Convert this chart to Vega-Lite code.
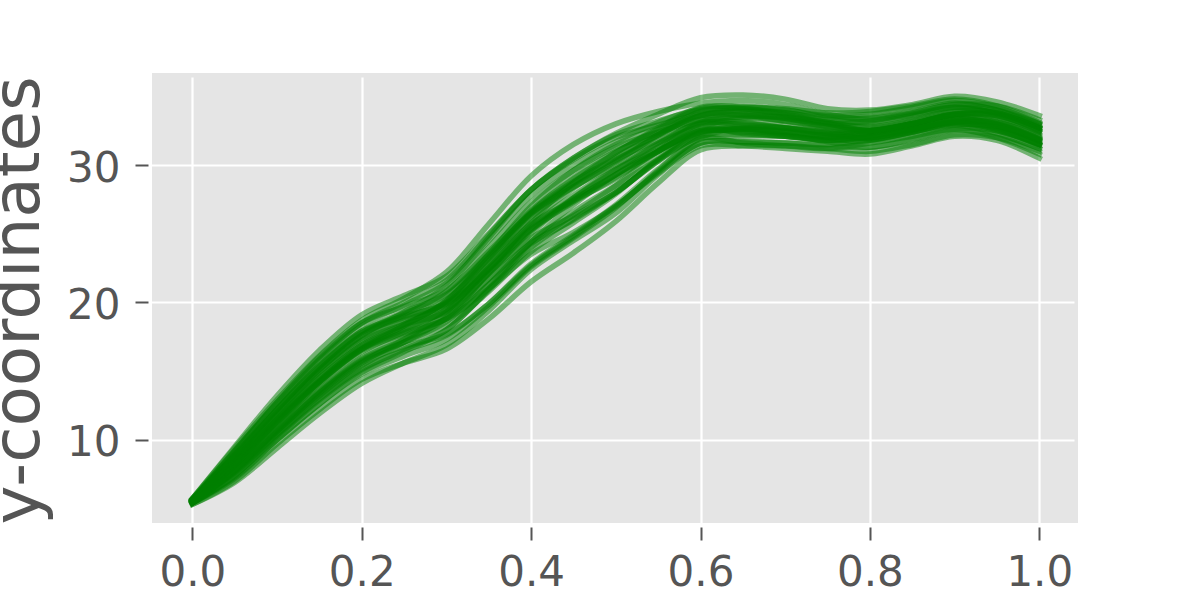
{
  "$schema": "https://vega.github.io/schema/vega-lite/v6.json",
  "autosize": {"type": "none"},
  "width": 926,
  "height": 450,
  "padding": {"left": 152, "top": 73, "right": 122, "bottom": 77},
  "background": "white",
  "config": {
    "view": {"fill": "#E5E5E5", "stroke": null},
    "axis": {
      "domain": false,
      "grid": true,
      "gridColor": "white",
      "gridWidth": 2.2,
      "gridOpacity": 1,
      "tickColor": "#555555",
      "tickWidth": 2,
      "tickSize": 13,
      "offset": 4,
      "labelFont": "DejaVu Sans",
      "labelFontSize": 42,
      "labelColor": "#555555",
      "titleFont": "DejaVu Sans",
      "titleFontWeight": "normal",
      "titleColor": "#555555"
    }
  },
  "data": {"values": [
    {"c":1,"x":0,"y":5.3},{"c":1,"x":0.05,"y":7.0},{"c":1,"x":0.1,"y":9.7},{"c":1,"x":0.15,"y":12.2},{"c":1,"x":0.2,"y":14.4},{"c":1,"x":0.25,"y":15.6},{"c":1,"x":0.3,"y":16.6},{"c":1,"x":0.35,"y":18.8},{"c":1,"x":0.4,"y":21.5},{"c":1,"x":0.45,"y":23.6},{"c":1,"x":0.5,"y":25.9},{"c":1,"x":0.55,"y":28.7},{"c":1,"x":0.6,"y":31.1},{"c":1,"x":0.65,"y":31.4},{"c":1,"x":0.7,"y":31.4},{"c":1,"x":0.75,"y":31.2},{"c":1,"x":0.8,"y":31.0},{"c":1,"x":0.85,"y":31.5},{"c":1,"x":0.9,"y":32.2},{"c":1,"x":0.95,"y":32.0},{"c":1,"x":1,"y":31.0},
    {"c":2,"x":0,"y":5.3},{"c":2,"x":0.05,"y":6.9},{"c":2,"x":0.1,"y":9.4},{"c":2,"x":0.15,"y":11.9},{"c":2,"x":0.2,"y":14.1},{"c":2,"x":0.25,"y":15.6},{"c":2,"x":0.3,"y":16.9},{"c":2,"x":0.35,"y":19.4},{"c":2,"x":0.4,"y":22.4},{"c":2,"x":0.45,"y":24.5},{"c":2,"x":0.5,"y":26.5},{"c":2,"x":0.55,"y":29.3},{"c":2,"x":0.6,"y":31.6},{"c":2,"x":0.65,"y":31.7},{"c":2,"x":0.7,"y":31.6},{"c":2,"x":0.75,"y":31.5},{"c":2,"x":0.8,"y":31.8},{"c":2,"x":0.85,"y":32.4},{"c":2,"x":0.9,"y":32.9},{"c":2,"x":0.95,"y":32.3},{"c":2,"x":1,"y":31.2},
    {"c":3,"x":0,"y":5.4},{"c":3,"x":0.05,"y":7.2},{"c":3,"x":0.1,"y":10.0},{"c":3,"x":0.15,"y":12.6},{"c":3,"x":0.2,"y":14.8},{"c":3,"x":0.25,"y":16.1},{"c":3,"x":0.3,"y":17.3},{"c":3,"x":0.35,"y":19.7},{"c":3,"x":0.4,"y":22.6},{"c":3,"x":0.45,"y":24.7},{"c":3,"x":0.5,"y":26.9},{"c":3,"x":0.55,"y":29.6},{"c":3,"x":0.6,"y":32.0},{"c":3,"x":0.65,"y":32.7},{"c":3,"x":0.7,"y":32.7},{"c":3,"x":0.75,"y":32.4},{"c":3,"x":0.8,"y":31.9},{"c":3,"x":0.85,"y":32.4},{"c":3,"x":0.9,"y":33.1},{"c":3,"x":0.95,"y":33.1},{"c":3,"x":1,"y":32.1},
    {"c":4,"x":0,"y":5.4},{"c":4,"x":0.05,"y":7.7},{"c":4,"x":0.1,"y":10.6},{"c":4,"x":0.15,"y":13.4},{"c":4,"x":0.2,"y":15.6},{"c":4,"x":0.25,"y":16.8},{"c":4,"x":0.3,"y":17.7},{"c":4,"x":0.35,"y":19.9},{"c":4,"x":0.4,"y":22.7},{"c":4,"x":0.45,"y":24.8},{"c":4,"x":0.5,"y":27.0},{"c":4,"x":0.55,"y":29.4},{"c":4,"x":0.6,"y":31.4},{"c":4,"x":0.65,"y":31.4},{"c":4,"x":0.7,"y":31.2},{"c":4,"x":0.75,"y":31.0},{"c":4,"x":0.8,"y":30.8},{"c":4,"x":0.85,"y":31.4},{"c":4,"x":0.9,"y":32.1},{"c":4,"x":0.95,"y":31.8},{"c":4,"x":1,"y":30.5},
    {"c":5,"x":0,"y":5.4},{"c":5,"x":0.05,"y":7.3},{"c":5,"x":0.1,"y":10.0},{"c":5,"x":0.15,"y":12.6},{"c":5,"x":0.2,"y":14.9},{"c":5,"x":0.25,"y":16.4},{"c":5,"x":0.3,"y":18.0},{"c":5,"x":0.35,"y":20.9},{"c":5,"x":0.4,"y":24.0},{"c":5,"x":0.45,"y":26.1},{"c":5,"x":0.5,"y":28.0},{"c":5,"x":0.55,"y":30.3},{"c":5,"x":0.6,"y":32.1},{"c":5,"x":0.65,"y":32.2},{"c":5,"x":0.7,"y":32.1},{"c":5,"x":0.75,"y":31.9},{"c":5,"x":0.8,"y":32.1},{"c":5,"x":0.85,"y":32.6},{"c":5,"x":0.9,"y":33.1},{"c":5,"x":0.95,"y":32.7},{"c":5,"x":1,"y":31.5},
    {"c":6,"x":0,"y":5.4},{"c":6,"x":0.05,"y":7.8},{"c":6,"x":0.1,"y":10.7},{"c":6,"x":0.15,"y":13.5},{"c":6,"x":0.2,"y":15.8},{"c":6,"x":0.25,"y":17.1},{"c":6,"x":0.3,"y":18.3},{"c":6,"x":0.35,"y":20.8},{"c":6,"x":0.4,"y":23.7},{"c":6,"x":0.45,"y":25.8},{"c":6,"x":0.5,"y":27.9},{"c":6,"x":0.55,"y":30.5},{"c":6,"x":0.6,"y":32.7},{"c":6,"x":0.65,"y":33.4},{"c":6,"x":0.7,"y":33.3},{"c":6,"x":0.75,"y":33.0},{"c":6,"x":0.8,"y":32.5},{"c":6,"x":0.85,"y":33.0},{"c":6,"x":0.9,"y":33.7},{"c":6,"x":0.95,"y":33.6},{"c":6,"x":1,"y":32.6},
    {"c":7,"x":0,"y":5.4},{"c":7,"x":0.05,"y":7.7},{"c":7,"x":0.1,"y":10.6},{"c":7,"x":0.15,"y":13.4},{"c":7,"x":0.2,"y":15.7},{"c":7,"x":0.25,"y":17.1},{"c":7,"x":0.3,"y":18.6},{"c":7,"x":0.35,"y":21.3},{"c":7,"x":0.4,"y":24.4},{"c":7,"x":0.45,"y":26.6},{"c":7,"x":0.5,"y":28.5},{"c":7,"x":0.55,"y":30.4},{"c":7,"x":0.6,"y":32.0},{"c":7,"x":0.65,"y":31.6},{"c":7,"x":0.7,"y":31.4},{"c":7,"x":0.75,"y":31.2},{"c":7,"x":0.8,"y":31.6},{"c":7,"x":0.85,"y":32.1},{"c":7,"x":0.9,"y":32.6},{"c":7,"x":0.95,"y":32.0},{"c":7,"x":1,"y":30.8},
    {"c":8,"x":0,"y":5.5},{"c":8,"x":0.05,"y":8.1},{"c":8,"x":0.1,"y":11.2},{"c":8,"x":0.15,"y":14.1},{"c":8,"x":0.2,"y":16.5},{"c":8,"x":0.25,"y":17.7},{"c":8,"x":0.3,"y":18.8},{"c":8,"x":0.35,"y":21.3},{"c":8,"x":0.4,"y":24.2},{"c":8,"x":0.45,"y":26.4},{"c":8,"x":0.5,"y":28.5},{"c":8,"x":0.55,"y":31.0},{"c":8,"x":0.6,"y":33.1},{"c":8,"x":0.65,"y":33.5},{"c":8,"x":0.7,"y":33.5},{"c":8,"x":0.75,"y":33.1},{"c":8,"x":0.8,"y":33.0},{"c":8,"x":0.85,"y":33.5},{"c":8,"x":0.9,"y":34.1},{"c":8,"x":0.95,"y":33.8},{"c":8,"x":1,"y":32.7},
    {"c":9,"x":0,"y":5.5},{"c":9,"x":0.05,"y":7.9},{"c":9,"x":0.1,"y":10.8},{"c":9,"x":0.15,"y":13.6},{"c":9,"x":0.2,"y":16.0},{"c":9,"x":0.25,"y":17.5},{"c":9,"x":0.3,"y":19.1},{"c":9,"x":0.35,"y":22.1},{"c":9,"x":0.4,"y":25.3},{"c":9,"x":0.45,"y":27.5},{"c":9,"x":0.5,"y":29.3},{"c":9,"x":0.55,"y":31.0},{"c":9,"x":0.6,"y":32.4},{"c":9,"x":0.65,"y":32.6},{"c":9,"x":0.7,"y":32.4},{"c":9,"x":0.75,"y":32.0},{"c":9,"x":0.8,"y":31.7},{"c":9,"x":0.85,"y":32.2},{"c":9,"x":0.9,"y":32.9},{"c":9,"x":0.95,"y":32.8},{"c":9,"x":1,"y":31.7},
    {"c":10,"x":0,"y":5.5},{"c":10,"x":0.05,"y":8.3},{"c":10,"x":0.1,"y":11.4},{"c":10,"x":0.15,"y":14.3},{"c":10,"x":0.2,"y":16.7},{"c":10,"x":0.25,"y":18.1},{"c":10,"x":0.3,"y":19.4},{"c":10,"x":0.35,"y":22.1},{"c":10,"x":0.4,"y":25.2},{"c":10,"x":0.45,"y":27.4},{"c":10,"x":0.5,"y":29.3},{"c":10,"x":0.55,"y":31.3},{"c":10,"x":0.6,"y":33.0},{"c":10,"x":0.65,"y":33.1},{"c":10,"x":0.7,"y":32.9},{"c":10,"x":0.75,"y":32.6},{"c":10,"x":0.8,"y":32.6},{"c":10,"x":0.85,"y":33.1},{"c":10,"x":0.9,"y":33.7},{"c":10,"x":0.95,"y":33.3},{"c":10,"x":1,"y":32.2},
    {"c":11,"x":0,"y":5.5},{"c":11,"x":0.05,"y":8.2},{"c":11,"x":0.1,"y":11.3},{"c":11,"x":0.15,"y":14.2},{"c":11,"x":0.2,"y":16.6},{"c":11,"x":0.25,"y":18.0},{"c":11,"x":0.3,"y":19.5},{"c":11,"x":0.35,"y":22.4},{"c":11,"x":0.4,"y":25.6},{"c":11,"x":0.45,"y":27.8},{"c":11,"x":0.5,"y":29.7},{"c":11,"x":0.55,"y":31.1},{"c":11,"x":0.6,"y":32.4},{"c":11,"x":0.65,"y":32.5},{"c":11,"x":0.7,"y":32.2},{"c":11,"x":0.75,"y":31.7},{"c":11,"x":0.8,"y":31.3},{"c":11,"x":0.85,"y":31.9},{"c":11,"x":0.9,"y":32.6},{"c":11,"x":0.95,"y":32.5},{"c":11,"x":1,"y":31.5},
    {"c":12,"x":0,"y":5.5},{"c":12,"x":0.05,"y":8.6},{"c":12,"x":0.1,"y":11.9},{"c":12,"x":0.15,"y":15.0},{"c":12,"x":0.2,"y":17.4},{"c":12,"x":0.25,"y":18.7},{"c":12,"x":0.3,"y":19.8},{"c":12,"x":0.35,"y":22.4},{"c":12,"x":0.4,"y":25.4},{"c":12,"x":0.45,"y":27.6},{"c":12,"x":0.5,"y":29.6},{"c":12,"x":0.55,"y":31.5},{"c":12,"x":0.6,"y":33.1},{"c":12,"x":0.65,"y":32.9},{"c":12,"x":0.7,"y":32.7},{"c":12,"x":0.75,"y":32.4},{"c":12,"x":0.8,"y":32.5},{"c":12,"x":0.85,"y":33.0},{"c":12,"x":0.9,"y":33.6},{"c":12,"x":0.95,"y":33.1},{"c":12,"x":1,"y":31.9},
    {"c":13,"x":0,"y":5.6},{"c":13,"x":0.05,"y":8.3},{"c":13,"x":0.1,"y":11.4},{"c":13,"x":0.15,"y":14.3},{"c":13,"x":0.2,"y":16.8},{"c":13,"x":0.25,"y":18.3},{"c":13,"x":0.3,"y":20.1},{"c":13,"x":0.35,"y":23.3},{"c":13,"x":0.4,"y":26.6},{"c":13,"x":0.45,"y":28.8},{"c":13,"x":0.5,"y":30.5},{"c":13,"x":0.55,"y":32.2},{"c":13,"x":0.6,"y":33.6},{"c":13,"x":0.65,"y":33.9},{"c":13,"x":0.7,"y":33.8},{"c":13,"x":0.75,"y":33.3},{"c":13,"x":0.8,"y":33.1},{"c":13,"x":0.85,"y":33.6},{"c":13,"x":0.9,"y":34.2},{"c":13,"x":0.95,"y":33.9},{"c":13,"x":1,"y":32.9},
    {"c":14,"x":0,"y":5.6},{"c":14,"x":0.05,"y":8.6},{"c":14,"x":0.1,"y":11.8},{"c":14,"x":0.15,"y":14.9},{"c":14,"x":0.2,"y":17.3},{"c":14,"x":0.25,"y":18.8},{"c":14,"x":0.3,"y":20.2},{"c":14,"x":0.35,"y":23.2},{"c":14,"x":0.4,"y":26.4},{"c":14,"x":0.45,"y":28.6},{"c":14,"x":0.5,"y":30.4},{"c":14,"x":0.55,"y":31.8},{"c":14,"x":0.6,"y":33.0},{"c":14,"x":0.65,"y":32.7},{"c":14,"x":0.7,"y":32.3},{"c":14,"x":0.75,"y":32.0},{"c":14,"x":0.8,"y":32.3},{"c":14,"x":0.85,"y":32.8},{"c":14,"x":0.9,"y":33.3},{"c":14,"x":0.95,"y":32.7},{"c":14,"x":1,"y":31.6},
    {"c":15,"x":0,"y":5.6},{"c":15,"x":0.05,"y":8.8},{"c":15,"x":0.1,"y":12.2},{"c":15,"x":0.15,"y":15.3},{"c":15,"x":0.2,"y":17.8},{"c":15,"x":0.25,"y":19.2},{"c":15,"x":0.3,"y":20.5},{"c":15,"x":0.35,"y":23.4},{"c":15,"x":0.4,"y":26.5},{"c":15,"x":0.45,"y":28.7},{"c":15,"x":0.5,"y":30.6},{"c":15,"x":0.55,"y":32.2},{"c":15,"x":0.6,"y":33.6},{"c":15,"x":0.65,"y":33.9},{"c":15,"x":0.7,"y":33.6},{"c":15,"x":0.75,"y":33.1},{"c":15,"x":0.8,"y":32.7},{"c":15,"x":0.85,"y":33.2},{"c":15,"x":0.9,"y":33.9},{"c":15,"x":0.95,"y":33.8},{"c":15,"x":1,"y":32.7},
    {"c":16,"x":0,"y":5.6},{"c":16,"x":0.05,"y":8.7},{"c":16,"x":0.1,"y":12.0},{"c":16,"x":0.15,"y":15.1},{"c":16,"x":0.2,"y":17.6},{"c":16,"x":0.25,"y":19.1},{"c":16,"x":0.3,"y":20.8},{"c":16,"x":0.35,"y":24.0},{"c":16,"x":0.4,"y":27.3},{"c":16,"x":0.45,"y":29.6},{"c":16,"x":0.5,"y":31.3},{"c":16,"x":0.55,"y":32.4},{"c":16,"x":0.6,"y":33.3},{"c":16,"x":0.65,"y":33.1},{"c":16,"x":0.7,"y":32.7},{"c":16,"x":0.75,"y":32.3},{"c":16,"x":0.8,"y":32.3},{"c":16,"x":0.85,"y":32.8},{"c":16,"x":0.9,"y":33.4},{"c":16,"x":0.95,"y":33.0},{"c":16,"x":1,"y":31.9},
    {"c":17,"x":0,"y":5.6},{"c":17,"x":0.05,"y":9.2},{"c":17,"x":0.1,"y":12.7},{"c":17,"x":0.15,"y":16.0},{"c":17,"x":0.2,"y":18.5},{"c":17,"x":0.25,"y":19.7},{"c":17,"x":0.3,"y":20.9},{"c":17,"x":0.35,"y":23.7},{"c":17,"x":0.4,"y":26.7},{"c":17,"x":0.45,"y":29.0},{"c":17,"x":0.5,"y":30.9},{"c":17,"x":0.55,"y":32.7},{"c":17,"x":0.6,"y":34.2},{"c":17,"x":0.65,"y":34.2},{"c":17,"x":0.7,"y":34.0},{"c":17,"x":0.75,"y":33.6},{"c":17,"x":0.8,"y":33.7},{"c":17,"x":0.85,"y":34.2},{"c":17,"x":0.9,"y":34.7},{"c":17,"x":0.95,"y":34.2},{"c":17,"x":1,"y":33.0},
    {"c":18,"x":0,"y":5.6},{"c":18,"x":0.05,"y":8.8},{"c":18,"x":0.1,"y":12.0},{"c":18,"x":0.15,"y":15.1},{"c":18,"x":0.2,"y":17.6},{"c":18,"x":0.25,"y":19.3},{"c":18,"x":0.3,"y":21.2},{"c":18,"x":0.35,"y":24.7},{"c":18,"x":0.4,"y":28.2},{"c":18,"x":0.45,"y":30.4},{"c":18,"x":0.5,"y":32.0},{"c":18,"x":0.55,"y":32.9},{"c":18,"x":0.6,"y":33.7},{"c":18,"x":0.65,"y":34.0},{"c":18,"x":0.7,"y":33.6},{"c":18,"x":0.75,"y":33.0},{"c":18,"x":0.8,"y":32.5},{"c":18,"x":0.85,"y":33.0},{"c":18,"x":0.9,"y":33.7},{"c":18,"x":0.95,"y":33.7},{"c":18,"x":1,"y":32.7},
    {"c":19,"x":0,"y":5.6},{"c":19,"x":0.05,"y":9.1},{"c":19,"x":0.1,"y":12.6},{"c":19,"x":0.15,"y":15.8},{"c":19,"x":0.2,"y":18.3},{"c":19,"x":0.25,"y":19.8},{"c":19,"x":0.3,"y":21.4},{"c":19,"x":0.35,"y":24.5},{"c":19,"x":0.4,"y":27.8},{"c":19,"x":0.45,"y":30.0},{"c":19,"x":0.5,"y":31.7},{"c":19,"x":0.55,"y":33.1},{"c":19,"x":0.6,"y":34.1},{"c":19,"x":0.65,"y":34.1},{"c":19,"x":0.7,"y":33.8},{"c":19,"x":0.75,"y":33.4},{"c":19,"x":0.8,"y":33.4},{"c":19,"x":0.85,"y":33.8},{"c":19,"x":0.9,"y":34.4},{"c":19,"x":0.95,"y":34.0},{"c":19,"x":1,"y":32.8},
    {"c":20,"x":0,"y":5.7},{"c":20,"x":0.05,"y":9.2},{"c":20,"x":0.1,"y":12.7},{"c":20,"x":0.15,"y":15.9},{"c":20,"x":0.2,"y":18.5},{"c":20,"x":0.25,"y":20.0},{"c":20,"x":0.3,"y":21.6},{"c":20,"x":0.35,"y":24.9},{"c":20,"x":0.4,"y":28.2},{"c":20,"x":0.45,"y":30.5},{"c":20,"x":0.5,"y":32.2},{"c":20,"x":0.55,"y":33.2},{"c":20,"x":0.6,"y":34.0},{"c":20,"x":0.65,"y":34.1},{"c":20,"x":0.7,"y":33.7},{"c":20,"x":0.75,"y":33.1},{"c":20,"x":0.8,"y":32.8},{"c":20,"x":0.85,"y":33.3},{"c":20,"x":0.9,"y":34.0},{"c":20,"x":0.95,"y":33.8},{"c":20,"x":1,"y":32.7},
    {"c":21,"x":0,"y":5.7},{"c":21,"x":0.05,"y":9.5},{"c":21,"x":0.1,"y":13.2},{"c":21,"x":0.15,"y":16.5},{"c":21,"x":0.2,"y":19.1},{"c":21,"x":0.25,"y":20.5},{"c":21,"x":0.3,"y":21.9},{"c":21,"x":0.35,"y":25.0},{"c":21,"x":0.4,"y":28.2},{"c":21,"x":0.45,"y":30.5},{"c":21,"x":0.5,"y":32.3},{"c":21,"x":0.55,"y":33.7},{"c":21,"x":0.6,"y":34.9},{"c":21,"x":0.65,"y":35.1},{"c":21,"x":0.7,"y":34.8},{"c":21,"x":0.75,"y":34.1},{"c":21,"x":0.8,"y":34.0},{"c":21,"x":0.85,"y":34.4},{"c":21,"x":0.9,"y":35.0},{"c":21,"x":0.95,"y":34.6},{"c":21,"x":1,"y":33.6},
    {"c":22,"x":0,"y":5.7},{"c":22,"x":0.05,"y":9.4},{"c":22,"x":0.1,"y":12.9},{"c":22,"x":0.15,"y":16.1},{"c":22,"x":0.2,"y":18.7},{"c":22,"x":0.25,"y":20.3},{"c":22,"x":0.3,"y":22.2},{"c":22,"x":0.35,"y":25.7},{"c":22,"x":0.4,"y":29.2},{"c":22,"x":0.45,"y":31.5},{"c":22,"x":0.5,"y":33.0},{"c":22,"x":0.55,"y":33.9},{"c":22,"x":0.6,"y":34.5},{"c":22,"x":0.65,"y":34.7},{"c":22,"x":0.7,"y":34.4},{"c":22,"x":0.75,"y":33.7},{"c":22,"x":0.8,"y":33.3},{"c":22,"x":0.85,"y":33.8},{"c":22,"x":0.9,"y":34.4},{"c":22,"x":0.95,"y":34.3},{"c":22,"x":1,"y":33.3},
    {"c":23,"x":0,"y":5.4},{"c":23,"x":0.05,"y":7.4},{"c":23,"x":0.1,"y":10.3},{"c":23,"x":0.15,"y":13.0},{"c":23,"x":0.2,"y":15.2},{"c":23,"x":0.25,"y":16.5},{"c":23,"x":0.3,"y":17.6},{"c":23,"x":0.35,"y":19.9},{"c":23,"x":0.4,"y":22.8},{"c":23,"x":0.45,"y":24.9},{"c":23,"x":0.5,"y":27.1},{"c":23,"x":0.55,"y":29.7},{"c":23,"x":0.6,"y":31.9},{"c":23,"x":0.65,"y":32.1},{"c":23,"x":0.7,"y":32.1},{"c":23,"x":0.75,"y":31.8},{"c":23,"x":0.8,"y":31.8},{"c":23,"x":0.85,"y":32.4},{"c":23,"x":0.9,"y":33.0},{"c":23,"x":0.95,"y":32.6},{"c":23,"x":1,"y":31.5},
    {"c":24,"x":0,"y":5.5},{"c":24,"x":0.05,"y":8.4},{"c":24,"x":0.1,"y":11.5},{"c":24,"x":0.15,"y":14.5},{"c":24,"x":0.2,"y":16.9},{"c":24,"x":0.25,"y":18.4},{"c":24,"x":0.3,"y":20.0},{"c":24,"x":0.35,"y":23.0},{"c":24,"x":0.4,"y":26.2},{"c":24,"x":0.45,"y":28.4},{"c":24,"x":0.5,"y":30.2},{"c":24,"x":0.55,"y":32.2},{"c":24,"x":0.6,"y":33.9},{"c":24,"x":0.65,"y":34.2},{"c":24,"x":0.7,"y":34.1},{"c":24,"x":0.75,"y":33.8},{"c":24,"x":0.8,"y":33.9},{"c":24,"x":0.85,"y":34.3},{"c":24,"x":0.9,"y":34.8},{"c":24,"x":0.95,"y":34.3},{"c":24,"x":1,"y":33.1},
    {"c":25,"x":0,"y":5.6},{"c":25,"x":0.05,"y":8.9},{"c":25,"x":0.1,"y":12.3},{"c":25,"x":0.15,"y":15.4},{"c":25,"x":0.2,"y":17.9},{"c":25,"x":0.25,"y":19.0},{"c":25,"x":0.3,"y":19.9},{"c":25,"x":0.35,"y":22.2},{"c":25,"x":0.4,"y":24.7},{"c":25,"x":0.45,"y":26.3},{"c":25,"x":0.5,"y":28.0},{"c":25,"x":0.55,"y":30.4},{"c":25,"x":0.6,"y":32.4},{"c":25,"x":0.65,"y":32.6},{"c":25,"x":0.7,"y":32.4},{"c":25,"x":0.75,"y":32.2},{"c":25,"x":0.8,"y":32.4},{"c":25,"x":0.85,"y":32.9},{"c":25,"x":0.9,"y":33.4},{"c":25,"x":0.95,"y":32.9},{"c":25,"x":1,"y":31.8},
    {"c":26,"x":0,"y":5.4},{"c":26,"x":0.05,"y":7.6},{"c":26,"x":0.1,"y":10.4},{"c":26,"x":0.15,"y":13.1},{"c":26,"x":0.2,"y":15.4},{"c":26,"x":0.25,"y":17.1},{"c":26,"x":0.3,"y":18.9},{"c":26,"x":0.35,"y":22.2},{"c":26,"x":0.4,"y":25.9},{"c":26,"x":0.45,"y":28.7},{"c":26,"x":0.5,"y":30.9},{"c":26,"x":0.55,"y":32.6},{"c":26,"x":0.6,"y":34.1},{"c":26,"x":0.65,"y":34.3},{"c":26,"x":0.7,"y":34.0},{"c":26,"x":0.75,"y":33.5},{"c":26,"x":0.8,"y":33.5},{"c":26,"x":0.85,"y":33.9},{"c":26,"x":0.9,"y":34.5},{"c":26,"x":0.95,"y":34.0},{"c":26,"x":1,"y":33.0},
    {"c":27,"x":0,"y":5.6},{"c":27,"x":0.05,"y":8.4},{"c":27,"x":0.1,"y":11.5},{"c":27,"x":0.15,"y":14.5},{"c":27,"x":0.2,"y":16.9},{"c":27,"x":0.25,"y":18.4},{"c":27,"x":0.3,"y":19.9},{"c":27,"x":0.35,"y":22.8},{"c":27,"x":0.4,"y":25.7},{"c":27,"x":0.45,"y":27.4},{"c":27,"x":0.5,"y":29.0},{"c":27,"x":0.55,"y":31.0},{"c":27,"x":0.6,"y":32.5},{"c":27,"x":0.65,"y":32.7},{"c":27,"x":0.7,"y":32.5},{"c":27,"x":0.75,"y":32.2},{"c":27,"x":0.8,"y":32.2},{"c":27,"x":0.85,"y":32.7},{"c":27,"x":0.9,"y":33.3},{"c":27,"x":0.95,"y":33.0},{"c":27,"x":1,"y":31.8},
    {"c":28,"x":0,"y":5.5},{"c":28,"x":0.05,"y":7.7},{"c":28,"x":0.1,"y":10.5},{"c":28,"x":0.15,"y":13.2},{"c":28,"x":0.2,"y":15.6},{"c":28,"x":0.25,"y":17.3},{"c":28,"x":0.3,"y":19.3},{"c":28,"x":0.35,"y":22.8},{"c":28,"x":0.4,"y":26.5},{"c":28,"x":0.45,"y":29.1},{"c":28,"x":0.5,"y":31.0},{"c":28,"x":0.55,"y":32.3},{"c":28,"x":0.6,"y":33.3},{"c":28,"x":0.65,"y":33.6},{"c":28,"x":0.7,"y":33.2},{"c":28,"x":0.75,"y":32.7},{"c":28,"x":0.8,"y":32.4},{"c":28,"x":0.85,"y":32.9},{"c":28,"x":0.9,"y":33.6},{"c":28,"x":0.95,"y":33.5},{"c":28,"x":1,"y":32.4},
    {"c":29,"x":0,"y":5.5},{"c":29,"x":0.05,"y":8.2},{"c":29,"x":0.1,"y":11.3},{"c":29,"x":0.15,"y":14.2},{"c":29,"x":0.2,"y":16.6},{"c":29,"x":0.25,"y":17.8},{"c":29,"x":0.3,"y":18.8},{"c":29,"x":0.35,"y":21.0},{"c":29,"x":0.4,"y":23.5},{"c":29,"x":0.45,"y":25.1},{"c":29,"x":0.5,"y":27.0},{"c":29,"x":0.55,"y":29.5},{"c":29,"x":0.6,"y":31.6},{"c":29,"x":0.65,"y":31.7},{"c":29,"x":0.7,"y":31.6},{"c":29,"x":0.75,"y":31.4},{"c":29,"x":0.8,"y":31.3},{"c":29,"x":0.85,"y":31.8},{"c":29,"x":0.9,"y":32.5},{"c":29,"x":0.95,"y":32.2},{"c":29,"x":1,"y":31.2},
    {"c":30,"x":0,"y":5.4},{"c":30,"x":0.05,"y":7.4},{"c":30,"x":0.1,"y":10.2},{"c":30,"x":0.15,"y":12.9},{"c":30,"x":0.2,"y":15.1},{"c":30,"x":0.25,"y":16.6},{"c":30,"x":0.3,"y":18.0},{"c":30,"x":0.35,"y":21.0},{"c":30,"x":0.4,"y":24.4},{"c":30,"x":0.45,"y":27.1},{"c":30,"x":0.5,"y":29.3},{"c":30,"x":0.55,"y":31.0},{"c":30,"x":0.6,"y":32.5},{"c":30,"x":0.65,"y":32.4},{"c":30,"x":0.7,"y":32.1},{"c":30,"x":0.75,"y":31.8},{"c":30,"x":0.8,"y":32.0},{"c":30,"x":0.85,"y":32.5},{"c":30,"x":0.9,"y":33.0},{"c":30,"x":0.95,"y":32.5},{"c":30,"x":1,"y":31.5},
    {"c":31,"x":0,"y":5.7},{"c":31,"x":0.05,"y":8.9},{"c":31,"x":0.1,"y":12.2},{"c":31,"x":0.15,"y":15.3},{"c":31,"x":0.2,"y":17.9},{"c":31,"x":0.25,"y":19.3},{"c":31,"x":0.3,"y":20.6},{"c":31,"x":0.35,"y":23.5},{"c":31,"x":0.4,"y":26.5},{"c":31,"x":0.45,"y":28.4},{"c":31,"x":0.5,"y":30.0},{"c":31,"x":0.55,"y":31.6},{"c":31,"x":0.6,"y":32.8},{"c":31,"x":0.65,"y":33.0},{"c":31,"x":0.7,"y":32.7},{"c":31,"x":0.75,"y":32.3},{"c":31,"x":0.8,"y":32.0},{"c":31,"x":0.85,"y":32.5},{"c":31,"x":0.9,"y":33.2},{"c":31,"x":0.95,"y":33.1},{"c":31,"x":1,"y":32.0},
    {"c":32,"x":0,"y":5.6},{"c":32,"x":0.05,"y":8.2},{"c":32,"x":0.1,"y":11.3},{"c":32,"x":0.15,"y":14.2},{"c":32,"x":0.2,"y":16.6},{"c":32,"x":0.25,"y":18.3},{"c":32,"x":0.3,"y":20.1},{"c":32,"x":0.35,"y":23.5},{"c":32,"x":0.4,"y":27.0},{"c":32,"x":0.45,"y":29.6},{"c":32,"x":0.5,"y":31.5},{"c":32,"x":0.55,"y":32.7},{"c":32,"x":0.6,"y":33.6},{"c":32,"x":0.65,"y":33.7},{"c":32,"x":0.7,"y":33.4},{"c":32,"x":0.75,"y":32.8},{"c":32,"x":0.8,"y":32.5},{"c":32,"x":0.85,"y":33.0},{"c":32,"x":0.9,"y":33.7},{"c":32,"x":0.95,"y":33.6},{"c":32,"x":1,"y":32.5},
    {"c":33,"x":0,"y":5.6},{"c":33,"x":0.05,"y":8.8},{"c":33,"x":0.1,"y":12.2},{"c":33,"x":0.15,"y":15.4},{"c":33,"x":0.2,"y":17.8},{"c":33,"x":0.25,"y":18.9},{"c":33,"x":0.3,"y":20.0},{"c":33,"x":0.35,"y":22.5},{"c":33,"x":0.4,"y":25.3},{"c":33,"x":0.45,"y":27.3},{"c":33,"x":0.5,"y":29.1},{"c":33,"x":0.55,"y":31.0},{"c":33,"x":0.6,"y":32.6},{"c":33,"x":0.65,"y":32.3},{"c":33,"x":0.7,"y":32.1},{"c":33,"x":0.75,"y":31.8},{"c":33,"x":0.8,"y":32.1},{"c":33,"x":0.85,"y":32.6},{"c":33,"x":0.9,"y":33.1},{"c":33,"x":0.95,"y":32.6},{"c":33,"x":1,"y":31.4},
    {"c":34,"x":0,"y":5.5},{"c":34,"x":0.05,"y":8.1},{"c":34,"x":0.1,"y":11.1},{"c":34,"x":0.15,"y":14.1},{"c":34,"x":0.2,"y":16.4},{"c":34,"x":0.25,"y":17.9},{"c":34,"x":0.3,"y":19.5},{"c":34,"x":0.35,"y":22.5},{"c":34,"x":0.4,"y":25.8},{"c":34,"x":0.45,"y":28.3},{"c":34,"x":0.5,"y":30.3},{"c":34,"x":0.55,"y":32.1},{"c":34,"x":0.6,"y":33.7},{"c":34,"x":0.65,"y":33.6},{"c":34,"x":0.7,"y":33.4},{"c":34,"x":0.75,"y":33.0},{"c":34,"x":0.8,"y":33.2},{"c":34,"x":0.85,"y":33.7},{"c":34,"x":0.9,"y":34.2},{"c":34,"x":0.95,"y":33.7},{"c":34,"x":1,"y":32.5},
    {"c":35,"x":0,"y":5.6},{"c":35,"x":0.05,"y":8.5},{"c":35,"x":0.1,"y":11.7},{"c":35,"x":0.15,"y":14.7},{"c":35,"x":0.2,"y":17.2},{"c":35,"x":0.25,"y":18.4},{"c":35,"x":0.3,"y":19.3},{"c":35,"x":0.35,"y":21.7},{"c":35,"x":0.4,"y":24.3},{"c":35,"x":0.45,"y":26.0},{"c":35,"x":0.5,"y":28.0},{"c":35,"x":0.55,"y":30.3},{"c":35,"x":0.6,"y":32.3},{"c":35,"x":0.65,"y":32.6},{"c":35,"x":0.7,"y":32.5},{"c":35,"x":0.75,"y":32.1},{"c":35,"x":0.8,"y":32.0},{"c":35,"x":0.85,"y":32.6},{"c":35,"x":0.9,"y":33.2},{"c":35,"x":0.95,"y":32.9},{"c":35,"x":1,"y":31.8},
    {"c":36,"x":0,"y":5.5},{"c":36,"x":0.05,"y":7.8},{"c":36,"x":0.1,"y":10.8},{"c":36,"x":0.15,"y":13.6},{"c":36,"x":0.2,"y":15.9},{"c":36,"x":0.25,"y":17.3},{"c":36,"x":0.3,"y":18.8},{"c":36,"x":0.35,"y":21.7},{"c":36,"x":0.4,"y":25.0},{"c":36,"x":0.45,"y":27.6},{"c":36,"x":0.5,"y":29.7},{"c":36,"x":0.55,"y":31.6},{"c":36,"x":0.6,"y":33.2},{"c":36,"x":0.65,"y":33.5},{"c":36,"x":0.7,"y":33.2},{"c":36,"x":0.75,"y":32.8},{"c":36,"x":0.8,"y":32.5},{"c":36,"x":0.85,"y":33.0},{"c":36,"x":0.9,"y":33.7},{"c":36,"x":0.95,"y":33.5},{"c":36,"x":1,"y":32.4}
  ]},
  "mark": {"type": "line", "color": "#008000", "opacity": 0.5, "strokeWidth": 5.5, "strokeCap": "square", "interpolate": "catmull-rom", "clip": true},
  "encoding": {
    "detail": {"field": "c", "type": "nominal"},
    "x": {
      "field": "x", "type": "quantitative",
      "scale": {"domain": [-0.0476, 1.0457], "nice": false, "zero": false},
      "axis": {"title": null, "values": [0, 0.2, 0.4, 0.6, 0.8, 1.0], "format": ".1f", "labelPadding": 12.5, "labelFlush": false, "labelOverlap": false}
    },
    "y": {
      "field": "y", "type": "quantitative",
      "scale": {"domain": [3.94, 36.7], "nice": false, "zero": false},
      "axis": {"title": "y-coordinates", "values": [10, 20, 30], "labelPadding": 15, "labelOffset": 3, "labelFlush": false, "labelOverlap": false,
        "titleFontSize": 66, "titleX": -110, "titleY": 227, "titleAngle": 270, "titleAlign": "center", "titleBaseline": "alphabetic"}
    }
  }
}
